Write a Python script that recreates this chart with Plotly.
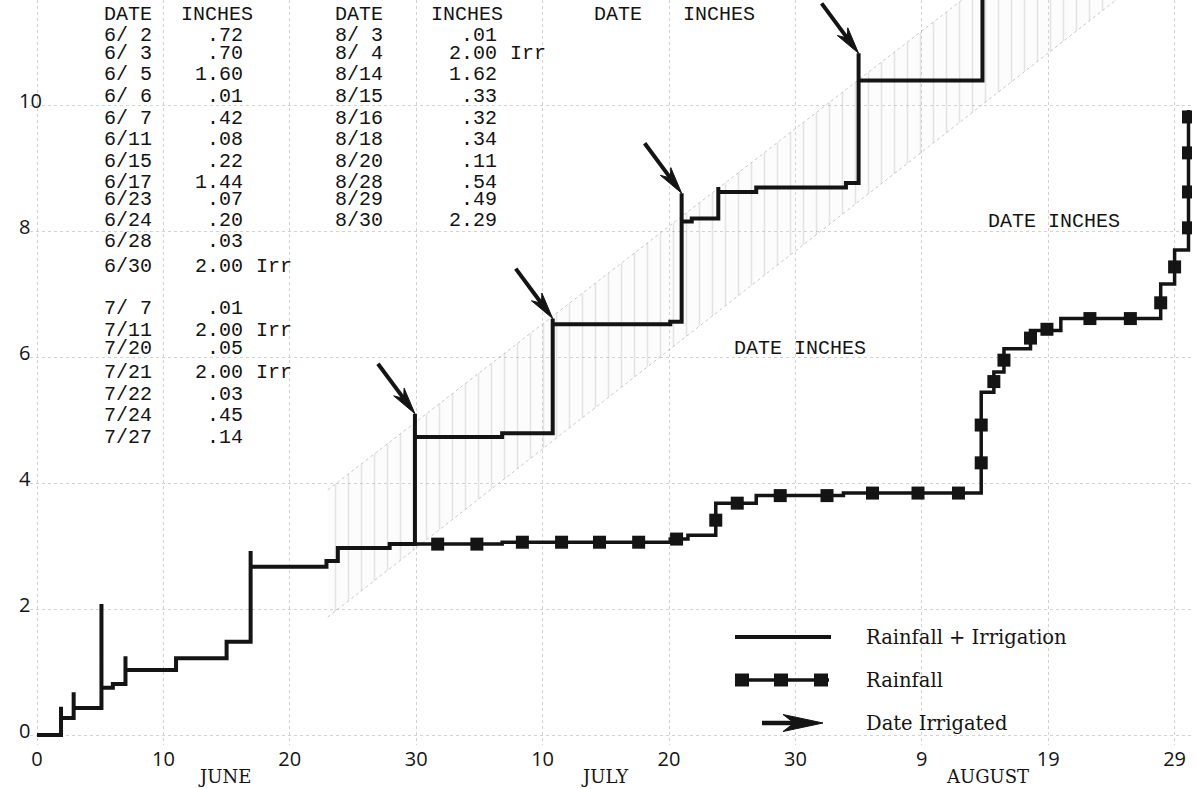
import math
import plotly.graph_objects as go

# ------------------------------------------------------------------ data
# day index: 0 = May 31, June d -> d, July d -> 30+d, August d -> 61+d
# Rainfall + Irrigation (cumulative inches); spikes drawn where a peak is given
ri_day = [0, 1.9, 2.9, 5.1, 6.0, 7.0, 11.0, 15.0, 16.9, 22.9, 23.8, 27.9, 29.9,
          36.8, 40.8, 50.1, 51.0, 51.8, 53.9, 56.9, 64.0, 65.0, 74.8]
ri_peak = [None, 0.45, 0.68, 2.08, None, 1.25, None, None, 2.92, None, None, None, 5.10,
           None, 6.61, None, 8.60, None, 8.70, None, None, 10.82, None]
ri_level = [0.0, 0.27, 0.43, 0.75, 0.81, 1.03, 1.22, 1.48, 2.67, 2.76, 2.97, 3.03, 4.73,
            4.79, 6.52, 6.56, 8.15, 8.20, 8.62, 8.69, 8.76, 10.39, 12.0]

# Rainfall only (cumulative inches), continues from the common part at 6/30
rain_day = [29.9, 36.8, 50.1, 51.5, 53.7, 56.9, 63.8, 74.7, 75.7, 76.5, 78.6, 81.0, 88.9, 90.0, 91.1]
rain_level = [3.03, 3.06, 3.11, 3.17, 3.68, 3.80, 3.84, 5.44, 5.76, 6.13, 6.42, 6.61, 7.16, 7.70, 9.92]

# square symbols along the rainfall curve
mark_day = [31.7, 34.8, 38.4, 41.5, 44.5, 47.6, 50.6, 53.7, 55.4, 58.8, 62.5, 66.1, 69.7, 72.9,
            74.7, 74.7, 75.7, 76.5, 78.6, 79.9, 83.3, 86.5, 88.9, 90.0, 91.1, 91.1, 91.1, 91.1]
mark_val = [3.03, 3.03, 3.06, 3.06, 3.06, 3.06, 3.11, 3.41, 3.68, 3.80, 3.80, 3.84, 3.84, 3.84,
            4.32, 4.92, 5.61, 5.95, 6.30, 6.44, 6.61, 6.61, 6.86, 7.43, 8.05, 8.62, 9.24, 9.81]

# dates irrigated (arrows)
irrigation_day = [29.9, 40.8, 51.0, 65.0]

# shaded (stippled) band between two parallel diagonals
band_day = [23, 95]
band_low = [1.87, 13.18]
band_high = [3.89, 15.05]

# axis ticks
x_tickvals = [0, 10, 20, 30, 40, 50, 60, 70, 80, 90]
x_ticktext = ["0", "10", "20", "30", "10", "20", "30", "9", "19", "29"]
y_tickvals = [0, 2, 4, 6, 8, 10]
months = ["JUNE", "JULY", "AUGUST"]
month_center_day = [14.8, 44.9, 75.2]

# typed tables
table1_dates = ["6/ 2", "6/ 3", "6/ 5", "6/ 6", "6/ 7", "6/11", "6/15", "6/17", "6/23", "6/24",
                "6/28", "6/30", "7/ 7", "7/11", "7/20", "7/21", "7/22", "7/24", "7/27"]
table1_inches = [".72", ".70", "1.60", ".01", ".42", ".08", ".22", "1.44", ".07", ".20",
                 ".03", "2.00", ".01", "2.00", ".05", "2.00", ".03", ".45", ".14"]
table1_irr = [False] * 11 + [True, False, True, False, True, False, False, False]
table2_dates = ["8/ 3", "8/ 4", "8/14", "8/15", "8/16", "8/18", "8/20", "8/28", "8/29", "8/30"]
table2_inches = [".01", "2.00", "1.62", ".33", ".32", ".34", ".11", ".54", ".49", "2.29"]
table2_irr = [False, True] + [False] * 8

legend_labels = ["Rainfall + Irrigation", "Rainfall", "Date Irrigated"]

# ------------------------------------------------------------------ layout geometry
W, H = 1196, 789
ML, MR, MT, MB = 30, 4, 0, 44
PLOT_W = W - ML - MR
PLOT_H = H - MT - MB
X0_PX, X_PER_DAY = 37.0, 12.64
Y0_PX, Y_PER_IN = 735.0, 63.0
x_range = [(ML - X0_PX) / X_PER_DAY, (W - MR - X0_PX) / X_PER_DAY]
y_range = [(Y0_PX - (MT + PLOT_H)) / Y_PER_IN, (Y0_PX - MT) / Y_PER_IN]


def PX(x):
    return (x - ML) / PLOT_W


def PY(y):
    return (MT + PLOT_H - y) / PLOT_H


INK = "#141414"
NB = "\u00a0"
MONO = "Liberation Mono"
SERIF = "DejaVu Serif"
SANS = "Open Sans"

row_y = [35, 53.5, 75, 96.7, 118.3, 140, 161.7, 182.7, 199.5, 220, 241.7, 266.7,
         308.3, 330, 348.3, 372.7, 394, 415.7, 437.3]

# ------------------------------------------------------------------ traces
fig = go.Figure()

fig.add_trace(go.Scatter(x=band_day, y=band_low, mode="lines",
                         line=dict(color="rgba(150,150,150,0.5)", width=1, dash="dot"),
                         hoverinfo="skip", showlegend=False))
fig.add_trace(go.Scatter(x=band_day, y=band_high, mode="lines", fill="tonexty",
                         fillcolor="rgba(205,205,205,0.08)",
                         fillpattern=dict(shape="|", fgcolor="rgba(130,130,130,0.40)",
                                          bgcolor="rgba(215,215,215,0.08)", size=13, solidity=0.12),
                         line=dict(color="rgba(150,150,150,0.5)", width=1, dash="dot"),
                         hoverinfo="skip", showlegend=False))

ri_x, ri_y = [], []
for d, pk, lv in zip(ri_day, ri_peak, ri_level):
    if pk is not None:
        ri_x.append(d)
        ri_y.append(pk)
    ri_x.append(d)
    ri_y.append(lv)

fig.add_trace(go.Scatter(x=ri_x, y=ri_y, mode="lines", line_shape="hv",
                         line=dict(color=INK, width=4), name=legend_labels[0], showlegend=False))
fig.add_trace(go.Scatter(x=rain_day, y=rain_level, mode="lines", line_shape="hv",
                         line=dict(color=INK, width=3.5), name=legend_labels[1], showlegend=False))
fig.add_trace(go.Scatter(x=mark_day, y=mark_val, mode="markers",
                         marker=dict(symbol="square", size=13, color=INK), showlegend=False))


# ------------------------------------------------------------------ arrows
def arrow_shapes(xref, yref, xa, ya, dx, dy, head_len, head_half, notch, width):
    L = math.hypot(dx, dy)
    ux, uy = -dx / L, -dy / L
    nx, ny = -uy, ux
    bx, by = -head_len * ux, -head_len * uy
    c1 = (bx + head_half * nx, by + head_half * ny)
    c2 = (bx - head_half * nx, by - head_half * ny)
    nt = (-(head_len - notch) * ux, -(head_len - notch) * uy)
    path = (f"M0,0 L{c1[0]:.2f},{c1[1]:.2f} L{nt[0]:.2f},{nt[1]:.2f} "
            f"L{c2[0]:.2f},{c2[1]:.2f} Z")
    common = dict(xref=xref, yref=yref, xsizemode="pixel", ysizemode="pixel",
                  xanchor=xa, yanchor=ya)
    shaft = dict(type="line", x0=dx, y0=dy, x1=nt[0], y1=nt[1],
                 line=dict(color=INK, width=width), **common)
    head = dict(type="path", path=path, fillcolor=INK, line=dict(color=INK, width=1), **common)
    return [shaft, head]


shapes = []
for d in irrigation_day:
    i = ri_day.index(d)
    shapes += arrow_shapes("x", "y", d, ri_peak[i], -37, 50, 27, 6.5, 8, 4)

# legend samples
shapes.append(dict(type="line", xref="paper", yref="paper", x0=PX(735), x1=PX(831),
                   y0=PY(637), y1=PY(637), line=dict(color=INK, width=4)))
shapes.append(dict(type="line", xref="paper", yref="paper", x0=PX(736), x1=PX(829),
                   y0=PY(680), y1=PY(680), line=dict(color=INK, width=3.5)))
for sx in [742, 781, 821]:
    shapes.append(dict(type="rect", xref="paper", yref="paper", xsizemode="pixel",
                       ysizemode="pixel", xanchor=PX(sx), yanchor=PY(680),
                       x0=-7, x1=7, y0=-6.5, y1=6.5, fillcolor=INK, line=dict(width=0)))
shapes += arrow_shapes("paper", "paper", PX(823), PY(723), -61, 0, 40, 8.5, 11, 4.5)

# ------------------------------------------------------------------ annotations
ann = []


def txt(text, x, y, xanchor="left", size=20, family=MONO, xref="paper", yref="paper",
        yshift=0, xshift=0):
    ann.append(dict(text=text, x=x, y=y, xref=xref, yref=yref, xanchor=xanchor,
                    yanchor="middle", showarrow=False, yshift=yshift, xshift=xshift,
                    font=dict(family=family, size=size, color=INK)))


# y tick labels
for v in y_tickvals:
    txt(str(v), 0, v, xanchor="left", size=20, family=SANS, yref="y", yshift=5, xshift=17 - ML)

# month names
for m, d in zip(months, month_center_day):
    txt(m, d, PY(777), xanchor="center", size=18, family=SERIF, xref="x")

# table headers
for label, x in [("DATE", 102), ("INCHES", 179), ("DATE", 333), ("INCHES", 429),
                 ("DATE", 592), ("INCHES", 681)]:
    txt(label, PX(x), PY(15))

# table column 1
for k, (dt, inch, irr) in enumerate(zip(table1_dates, table1_inches, table1_irr)):
    y = PY(row_y[k])
    txt(dt.replace(" ", NB), PX(102), y)
    txt(inch, PX(245), y, xanchor="right")
    if irr:
        txt("Irr", PX(254), y)

# table column 2
for k, (dt, inch, irr) in enumerate(zip(table2_dates, table2_inches, table2_irr)):
    y = PY(row_y[k])
    txt(dt.replace(" ", NB), PX(333), y)
    txt(inch, PX(499), y, xanchor="right")
    if irr:
        txt("Irr", PX(508), y)

# loose headings
txt("DATE" + NB + "INCHES", PX(732), PY(348))
txt("DATE" + NB + "INCHES", PX(986), PY(222))

# legend text
for lab, y in zip(legend_labels, [637, 680, 723]):
    txt(lab, PX(864), PY(y), size=19.5, family=SERIF)

# ------------------------------------------------------------------ layout
fig.update_layout(
    width=W, height=H,
    margin=dict(l=ML, r=MR, t=MT, b=MB, pad=0),
    paper_bgcolor="white", plot_bgcolor="white",
    showlegend=False, hovermode=False,
    xaxis=dict(range=x_range, tickvals=x_tickvals, ticktext=x_ticktext,
               showgrid=True, gridcolor="#d2d2d2", gridwidth=1, griddash="dot",
               zeroline=False, showline=False, ticks="",
               tickfont=dict(family=SANS, size=20, color=INK)),
    yaxis=dict(range=y_range, tickvals=y_tickvals, showticklabels=False,
               showgrid=True, gridcolor="#d2d2d2", gridwidth=1, griddash="dot",
               zeroline=False, showline=False, ticks=""),
    shapes=shapes,
    annotations=ann,
)

fig.write_html(
    "out.html",
    config={"displayModeBar": False},
    post_script="document.body.style.margin='0px';document.body.style.overflow='hidden';",
)
